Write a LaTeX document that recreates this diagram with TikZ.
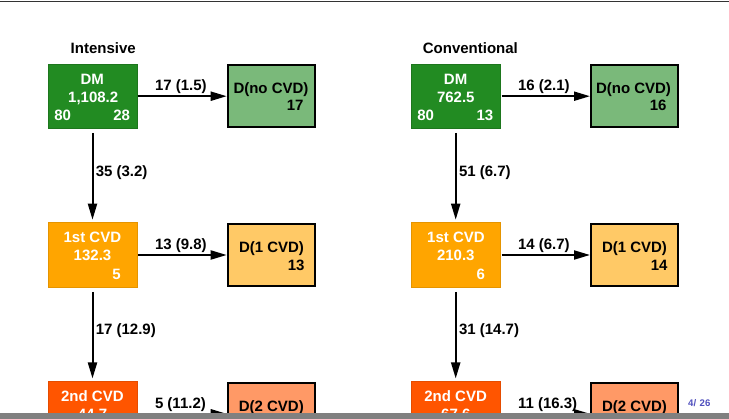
\documentclass[tikz,border=0pt]{standalone}
\usepackage{fontspec}
\setmainfont{Liberation Sans}
\usetikzlibrary{arrows.meta}
\definecolor{cgreen}{RGB}{34,139,34}
\definecolor{corange}{RGB}{255,165,0}
\definecolor{cred}{RGB}{255,85,0}
\definecolor{pagecol}{RGB}{80,80,190}
\begin{document}
\begin{tikzpicture}[x=1pt,y=-1pt,
  cbox/.style={minimum width=88.6pt, minimum height=64.6pt, inner sep=0pt, outer sep=0pt, line width=0.4pt},
  dbox/.style={draw=black, line width=2pt, minimum width=87pt, minimum height=62.5pt, inner sep=0pt, outer sep=1pt},
  txt/.style={font=\fontsize{15}{18}\selectfont\bfseries, inner sep=0pt, outer sep=0pt},
  wtxt/.style={txt, text=white},
  arr/.style={-{Triangle[length=16pt,width=9pt]}, line width=2pt},
  harr/.style={arr, shorten <=1.5pt},
  varr/.style={arr, shorten <=4.5pt, shorten >=3pt}
]
\useasboundingbox (0,0) rectangle (729,419);
\clip (0,0) rectangle (729,419);
\fill[white] (0,0) rectangle (729,419);
\draw[black!80, line width=1.3pt] (0,1.7) -- (729,1.7);

% ---------- Intensive ----------
\node[txt, anchor=base] (tI) at (103.2,54) {Intensive};

\node[cbox, fill=cgreen, draw=cgreen!85!black] (dmI) at (92.5,96.2) {};
\node[dbox, fill=cgreen!60!white] (dnoI) at (271.2,96.2) {};
\node[cbox, fill=corange, draw=corange!90!black] (c1I) at (92.5,255) {};
\node[dbox, fill=corange!60!white] (d1I) at (271.2,255) {};
\node[cbox, fill=cred, draw=cred!90!black] (c2I) at (92.5,413.8) {};
\node[dbox, fill=cred!60!white] (d2I) at (271.2,413.8) {};

\node[wtxt, anchor=base] (dmIa) at (92.2,84.4) {DM};
\node[wtxt, anchor=base] (dmIb) at (93.2,102.5) {1,108.2};
\node[wtxt, anchor=base west] (dmIc) at (54.3,120.4) {80};
\node[wtxt, anchor=base east] (dmId) at (130,120.4) {28};

\node[txt, anchor=base] (dnoIa) at (271,93.5) {D(no CVD)};
\node[txt, anchor=base east] (dnoIb) at (303.5,110.5) {17};

\node[wtxt, anchor=base] (c1Ia) at (92.4,243) {1st CVD};
\node[wtxt, anchor=base] (c1Ib) at (92.5,261) {132.3};
\node[wtxt, anchor=base east] (c1Ic) at (120.7,279.2) {5};

\node[txt, anchor=base] (d1Ia) at (271.5,253) {D(1 CVD)};
\node[txt, anchor=base east] (d1Ib) at (304.5,270.5) {13};

\node[wtxt, anchor=base] (c2Ia) at (92.4,401.8) {2nd CVD};
\node[wtxt, anchor=base] (c2Ib) at (92.5,419.8) {44.7};

\node[txt, anchor=base] (d2Ia) at (271.3,411.5) {D(2 CVD)};

\draw[harr] (dmI) -- (dnoI);
\draw[harr] (c1I) -- (d1I);
\draw[harr] (c2I) -- (d2I);
\draw[varr] (dmI) -- (c1I);
\draw[varr] (c1I) -- (c2I);

\node[txt, anchor=base west] (lIa) at (155,90.5) {17 (1.5)};
\node[txt, anchor=base west] (lIb) at (155,250) {13 (9.8)};
\node[txt, anchor=base west] (lIc) at (155,408.3) {5 (11.2)};
\node[txt, anchor=base west] (lId) at (95.8,177) {35 (3.2)};
\node[txt, anchor=base west] (lIe) at (95.8,335) {17 (12.9)};

% ---------- Conventional ----------
\node[txt, anchor=base] (tC) at (470.4,54) {Conventional};

\node[cbox, fill=cgreen, draw=cgreen!85!black] (dmC) at (455.7,96.2) {};
\node[dbox, fill=cgreen!60!white] (dnoC) at (634.5,96.2) {};
\node[cbox, fill=corange, draw=corange!90!black] (c1C) at (455.7,255) {};
\node[dbox, fill=corange!60!white] (d1C) at (634.5,255) {};
\node[cbox, fill=cred, draw=cred!90!black] (c2C) at (455.7,413.8) {};
\node[dbox, fill=cred!60!white] (d2C) at (634.5,413.8) {};

\node[wtxt, anchor=base] (dmCa) at (455.6,84.4) {DM};
\node[wtxt, anchor=base] (dmCb) at (455.8,102.5) {762.5};
\node[wtxt, anchor=base west] (dmCc) at (417.3,120.4) {80};
\node[wtxt, anchor=base east] (dmCd) at (493.3,120.4) {13};

\node[txt, anchor=base] (dnoCa) at (633.5,93.5) {D(no CVD)};
\node[txt, anchor=base east] (dnoCb) at (666.5,110.5) {16};

\node[wtxt, anchor=base] (c1Ca) at (456,243) {1st CVD};
\node[wtxt, anchor=base] (c1Cb) at (455.8,261) {210.3};
\node[wtxt, anchor=base east] (c1Cc) at (485,279.2) {6};

\node[txt, anchor=base] (d1Ca) at (634.5,253) {D(1 CVD)};
\node[txt, anchor=base east] (d1Cb) at (667.5,270.5) {14};

\node[wtxt, anchor=base] (c2Ca) at (455.6,401.8) {2nd CVD};
\node[wtxt, anchor=base] (c2Cb) at (455.8,419.8) {67.6};

\node[txt, anchor=base] (d2Ca) at (634.5,411.5) {D(2 CVD)};

\draw[harr] (dmC) -- (dnoC);
\draw[harr] (c1C) -- (d1C);
\draw[harr] (c2C) -- (d2C);
\draw[varr] (dmC) -- (c1C);
\draw[varr] (c1C) -- (c2C);

\node[txt, anchor=base west] (lCa) at (518,90.5) {16 (2.1)};
\node[txt, anchor=base west] (lCb) at (518,250) {14 (6.7)};
\node[txt, anchor=base west] (lCc) at (518,408.3) {11 (16.3)};
\node[txt, anchor=base west] (lCd) at (459,177) {51 (6.7)};
\node[txt, anchor=base west] (lCe) at (459,335) {31 (14.7)};

% ---------- footline ----------
\fill[gray] (0,413.3) rectangle (729,419);
\node[font=\fontsize{9.6}{11}\selectfont\bfseries, text=pagecol, anchor=base west, inner sep=0pt] (pg) at (688,406.7) {4/\hspace{3.5pt}26};
\end{tikzpicture}
\end{document}
